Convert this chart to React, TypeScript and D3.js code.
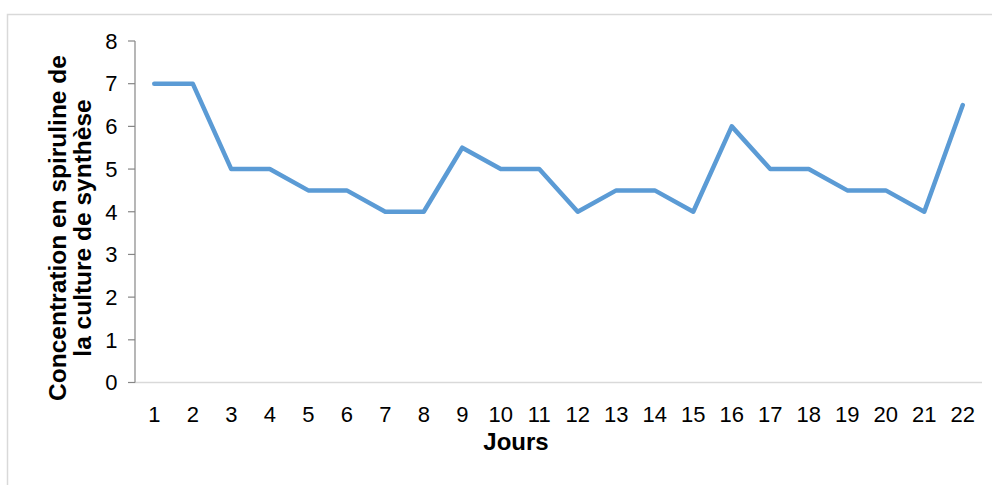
import React from "react";
import * as d3 from "d3";

const days = ["1","2","3","4","5","6","7","8","9","10","11","12","13","14","15","16","17","18","19","20","21","22"];
const concentration = [7, 7, 5, 5, 4.5, 4.5, 4, 4, 5.5, 5, 5, 4, 4.5, 4.5, 4, 6, 5, 5, 4.5, 4.5, 4, 6.5];
const yTicks = [0, 1, 2, 3, 4, 5, 6, 7, 8];
const yTitleLines = ["Concentration en spiruline de", "la culture de synthèse"];
const xTitle = "Jours";

export default function App() {
  const W = 992, H = 485;
  const left = 135, right = 982, top = 41, bottom = 382.5;
  const x = d3.scaleBand().domain(days).range([left, right]);
  const y = d3.scaleLinear().domain([0, 8]).range([bottom, top]);
  const line = d3.line<number>()
    .x((_, i) => (x(days[i]) as number) + x.bandwidth() / 2)
    .y((d) => y(d));
  const font = "'Liberation Sans', Arial, sans-serif";
  return (
    <svg width={W} height={H} style={{ position: "absolute", left: 0, top: 0, display: "block" }} fontFamily={font}>
      <rect x={0} y={0} width={W} height={H} fill="#fff" />
      <path d={`M7.5,${H + 5} V14.5 H${W + 5}`} fill="none" stroke="#d9d9d9" strokeWidth={1.5} />
      <line x1={left} x2={right} y1={bottom} y2={bottom} stroke="#d9d9d9" strokeWidth={1.5} />
      <line x1={left} x2={left} y1={top} y2={bottom} stroke="#868686" strokeWidth={1.2} />
      {yTicks.map((t) => (
        <g key={t}>
          <line x1={left - 7} x2={left} y1={y(t)} y2={y(t)} stroke="#868686" strokeWidth={1.2} />
          <text x={117.5} y={y(t) + 7.8} textAnchor="end" fontSize={22} fill="#000">{t}</text>
        </g>
      ))}
      {days.map((d) => (
        <text key={d} x={(x(d) as number) + x.bandwidth() / 2} y={421.5} textAnchor="middle" fontSize={22} fill="#000">{d}</text>
      ))}
      <text x={516} y={450} textAnchor="middle" fontSize={24} fontWeight="bold" fill="#000">{xTitle}</text>
      <g transform="translate(0,228) rotate(-90)">
        {yTitleLines.map((l, i) => (
          <text key={i} x={0} y={i === 0 ? 66 : 91} textAnchor="middle" fontSize={24.5} fontWeight="bold" fill="#000">{l}</text>
        ))}
      </g>
      <path d={line(concentration) || ""} fill="none" stroke="#5b9bd5" strokeWidth={4.5} strokeLinecap="round" strokeLinejoin="round" />
    </svg>
  );
}
